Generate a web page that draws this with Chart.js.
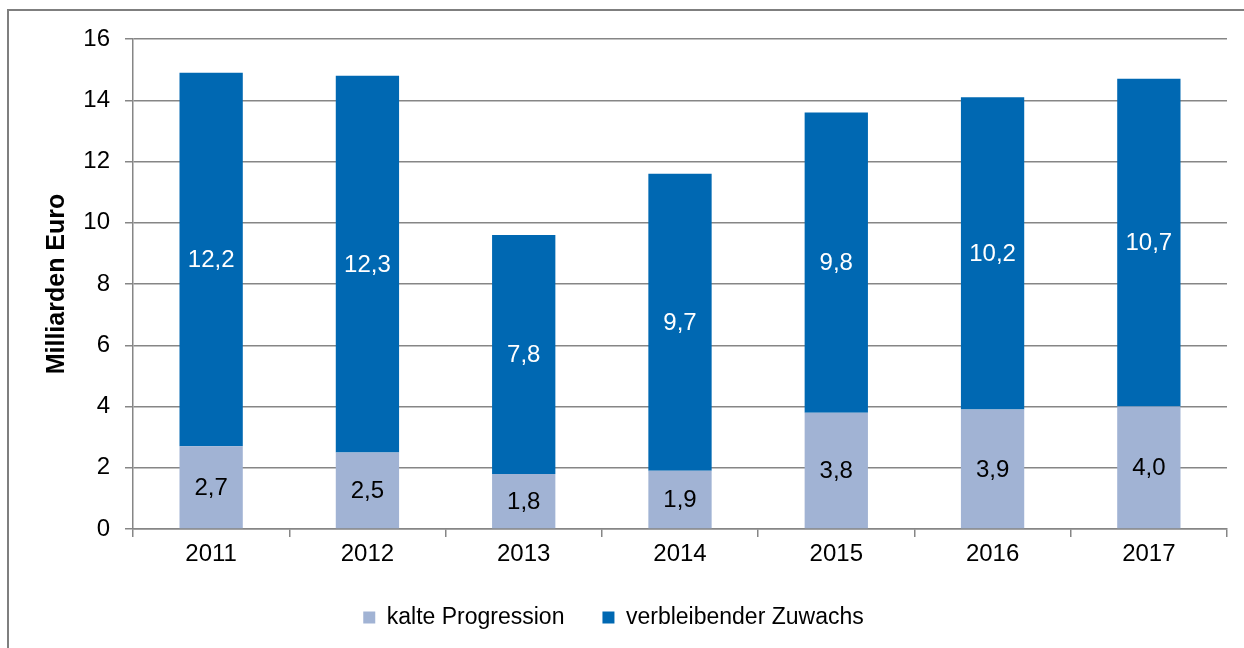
<!DOCTYPE html>
<html>
<head>
<meta charset="utf-8">
<script src="https://cdn.jsdelivr.net/npm/chart.js@4/dist/chart.umd.min.js"></script>
<style>
  html, body { margin: 0; padding: 0; background: #fff; overflow: hidden; }
  #frame { position: absolute; left: 7px; top: 9px; width: 1300px; height: 700px;
           border-left: 2px solid #7f7f7f; border-top: 2px solid #7f7f7f; }
  #wrap { position: absolute; left: 0; top: 0; width: 1244px; height: 648px; }
</style>
</head>
<body>
<div id="frame"></div>
<div id="wrap"><canvas id="chart"></canvas></div>
<script>
const years = ['2011', '2012', '2013', '2014', '2015', '2016', '2017'];
const kalteProgression = [2.7, 2.5, 1.8, 1.9, 3.8, 3.9, 4.0];
const verbleibenderZuwachs = [12.2, 12.3, 7.8, 9.7, 9.8, 10.2, 10.7];
const yTicks = [0, 2, 4, 6, 8, 10, 12, 14, 16];

const gridColor = '#868686';
const font = 'Liberation Sans, Arial, sans-serif';

// Werte mittig in die Segmente schreiben
const valueLabels = {
    id: 'valueLabels',
    afterDatasetsDraw(chart) {
        const ctx = chart.ctx;
        ctx.save();
        ctx.font = '24px ' + font;
        ctx.textAlign = 'center';
        ctx.textBaseline = 'middle';
        chart.data.datasets.forEach((ds, i) => {
            const meta = chart.getDatasetMeta(i);
            ctx.fillStyle = i === 0 ? '#000' : '#fff';
            meta.data.forEach((bar, j) => {
                const p = bar.getProps(['x', 'y', 'base'], true);
                ctx.fillText(ds.data[j].toFixed(1).replace('.', ','), p.x, (p.y + p.base) / 2 + 1);
            });
        });
        ctx.restore();
    }
};

new Chart(document.getElementById('chart').getContext('2d'), {
    type: 'bar',
    data: {
        labels: years,
        datasets: [{
            label: 'kalte Progression',
            data: kalteProgression,
            backgroundColor: '#A1B3D4',
            barPercentage: 0.405,
            categoryPercentage: 1
        }, {
            label: 'verbleibender Zuwachs',
            data: verbleibenderZuwachs,
            backgroundColor: '#0068B2',
            barPercentage: 0.405,
            categoryPercentage: 1
        }]
    },
    options: {
        responsive: true,
        maintainAspectRatio: false,
        animation: false,
        layout: { padding: { left: 0, right: 17, top: 39, bottom: 9 } },
        plugins: {
            legend: {
                position: 'bottom',
                labels: {
                    font: { family: font, size: 23 },
                    color: '#000',
                    boxWidth: 12,
                    boxHeight: 12,
                    padding: 38
                }
            },
            tooltip: { enabled: false }
        },
        scales: {
            x: {
                stacked: true,
                grid: { drawOnChartArea: false, color: gridColor, lineWidth: 1.5, tickLength: 8 },
                border: { color: gridColor, width: 1.5 },
                ticks: { color: '#000', font: { family: font, size: 24 }, padding: 3 },
                afterFit(axis) { axis.height = 39; }
            },
            y: {
                stacked: true,
                min: 0,
                max: 16,
                afterBuildTicks(axis) { axis.ticks = yTicks.map(v => ({ value: v })); },
                grid: { color: gridColor, lineWidth: 1.5, tickLength: 8 },
                border: { color: gridColor, width: 1.5 },
                ticks: { color: '#000', font: { family: font, size: 24 }, padding: 15 },
                title: {
                    display: true,
                    text: 'Milliarden Euro',
                    color: '#000',
                    font: { family: font, size: 25, weight: 'bold' },
                    padding: { top: 42, bottom: 0 }
                },
                afterFit(axis) { axis.width = 133; }
            }
        }
    },
    plugins: [valueLabels]
});
</script>
</body>
</html>
